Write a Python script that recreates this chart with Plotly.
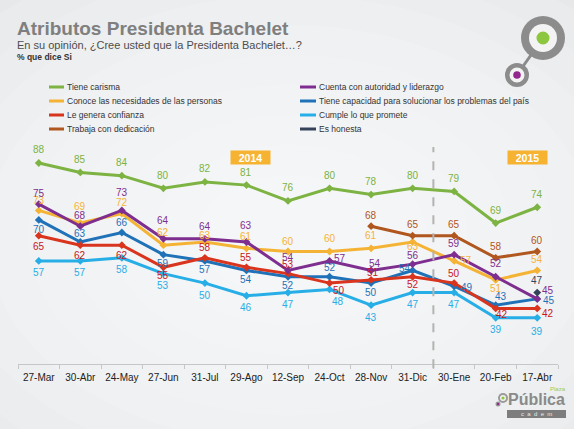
import plotly.graph_objects as go

# ---------------- data ----------------
fechas = ["27-Mar", "30-Abr", "24-May", "27-Jun", "31-Jul", "29-Ago", "12-Sep",
          "24-Oct", "28-Nov", "31-Dic", "30-Ene", "20-Feb", "17-Abr"]
tiene_carisma = [88, 85, 84, 80, 82, 81, 76, 80, 78, 80, 79, 69, 74]
cuenta_autoridad = [75, 68, 73, 64, 64, 63, 54, 57, 54, 56, 59, 52, 45]
conoce_necesidades = [73, 69, 72, 62, 63, 61, 60, 60, 61, 63, 57, 51, 54]
tiene_capacidad = [70, 63, 66, 59, 57, 54, 52, 52, 50, 54, 49, 43, 45]
genera_confianza = [65, 62, 62, 55, 58, 55, 53, 50, 51, 52, 50, 42, 42]
cumple_promete = [57, 57, 58, 53, 50, 46, 47, 48, 43, 47, 47, 39, 39]
trabaja_dedicacion = [None] * 8 + [68, 65, 65, 58, 60]
es_honesta = [None] * 12 + [47]

nombres = {
    "carisma": "Tiene carisma",
    "autoridad": "Cuenta con autoridad y liderazgo",
    "conoce": "Conoce las necesidades de las personas",
    "capacidad": "Tiene capacidad para solucionar los problemas del país",
    "confianza": "Le genera confianza",
    "cumple": "Cumple lo que promete",
    "trabaja": "Trabaja con dedicación",
    "honesta": "Es honesta",
}

# ---------------- styles ----------------
colores = {
    "carisma": "#7cb342", "autoridad": "#7d2e8f", "conoce": "#f5b335",
    "capacidad": "#1f72b8", "confianza": "#d9341d", "cumple": "#27aee6",
    "trabaja": "#b0561f", "honesta": "#34435a",
}
colores_texto = dict(colores)
colores_texto["confianza"] = "#c8161d"

# label offsets (dx, dy) in screen pixels from each point (dy > 0 = below)
desplaz = {
    "carisma": [(0, -13)] * 13,
    "autoridad": [(0, -11), (0, -11), (0, -18), (0, -18), (0, -12), (0, -17), (0, -13),
                  (10, -2), (4, -7), (0, -9), (0, -11), (0, -13), (11, -8)],
    "conoce": [(0, -10), (0, -17), (0, -11), (0, -13), (0, -7), (0, -12), (0, -10),
               (0, -13), (0, -13), (0, 4), (12, 0), (0, 9), (0, -11)],
    "capacidad": [(0, 10), (0, -9), (0, -10), (0, 9), (0, 9), (0, 9), (0, 9),
                  (0, -9), (0, 9), (-8, -2), (13, 1), (5, -9), (12, 2)],
    "confianza": [(0, 11), (0, 10), (0, 10), (0, 8), (0, -10), (0, -10), (0, -9),
                  (9, 7), (2, -7), (0, 8), (0, -10), (6, 6), (11, 5)],
    "cumple": [(0, 12)] * 7 + [(8, 12)] + [(0, 12)] * 4 + [(0, 14)],
    "trabaja": [(0, -11)] * 13,
    "honesta": [(0, -12)] * 13,
}
valores = {
    "carisma": tiene_carisma, "autoridad": cuenta_autoridad,
    "conoce": conoce_necesidades, "capacidad": tiene_capacidad,
    "confianza": genera_confianza, "cumple": cumple_promete,
    "trabaja": trabaja_dedicacion, "honesta": es_honesta,
}
orden_dibujo = ["cumple", "capacidad", "confianza", "conoce", "autoridad",
                "carisma", "trabaja", "honesta"]

FONT = "Liberation Sans, Arial, Helvetica, sans-serif"
W, H = 574, 429
ML, MR, MT, MB = 18, 16, 147, 65
BG = "#e6e8ea"


def xp(px):
    return (px - ML) / (W - ML - MR)


def yp(py):
    return (H - MB - py) / (H - MT - MB)


fig = go.Figure()
annotations = []
for k in orden_dibujo:
    vals = valores[k]
    fig.add_trace(go.Scatter(
        x=fechas, y=vals, name=nombres[k], mode="lines+markers",
        line=dict(color=colores[k], width=3),
        marker=dict(symbol="diamond", size=6, color=colores[k]),
        showlegend=False, cliponaxis=False, hoverinfo="x+y+name",
    ))
    for i, v in enumerate(vals):
        if v is None:
            continue
        dx, dy = desplaz[k][i]
        annotations.append(dict(
            xref="x", yref="y", x=fechas[i], y=v, text=str(v), showarrow=False,
            xanchor="center", yanchor="middle", xshift=dx, yshift=-dy,
            font=dict(color=colores_texto[k], size=10, family=FONT)))

shapes = []

# background radial-ish gradient
for i in range(9):
    rx = 430 - i * 42
    ry = 300 - i * 30
    cx, cy = 290, 235
    shapes.append(dict(type="circle", xref="paper", yref="paper", layer="below",
                       x0=xp(cx - rx), x1=xp(cx + rx), y0=yp(cy + ry), y1=yp(cy - ry),
                       fillcolor="rgba(255,255,255,0.13)", line=dict(width=0)))

# dashed separator between years
shapes.append(dict(type="line", xref="x", yref="paper", x0=9.5, x1=9.5, y0=-0.02, y1=1.0,
                   line=dict(color="#b3b3b3", width=2, dash="dash")))

# legend (manual, two columns)
col1 = ["carisma", "conoce", "confianza", "trabaja"]
col2 = ["autoridad", "capacidad", "cumple", "honesta"]
filas = [87, 101, 115, 129]
for col, (lx0, lx1, tx) in ((col1, (49, 64, 65)), (col2, (300, 316, 317))):
    for k, fy in zip(col, filas):
        shapes.append(dict(type="line", xref="paper", yref="paper",
                           x0=xp(lx0), x1=xp(lx1), y0=yp(fy), y1=yp(fy),
                           line=dict(color=colores[k], width=3)))
        annotations.append(dict(xref="paper", yref="paper", x=xp(tx), y=yp(fy),
                                xanchor="left", yanchor="middle", showarrow=False,
                                text=nombres[k],
                                font=dict(size=8.5, color="#333333", family=FONT)))

# titles
annotations += [
    dict(xref="paper", yref="paper", x=xp(15), y=yp(29), xanchor="left", yanchor="middle",
         showarrow=False, text="<b>Atributos Presidenta Bachelet</b>",
         font=dict(size=19, color="#7f7f7f", family=FONT)),
    dict(xref="paper", yref="paper", x=xp(15), y=yp(45), xanchor="left", yanchor="middle",
         showarrow=False, text="En su opinión, ¿Cree usted que la Presidenta Bachelet…?",
         font=dict(size=11, color="#4d4d4d", family=FONT)),
    dict(xref="paper", yref="paper", x=xp(15), y=yp(57.5), xanchor="left", yanchor="middle",
         showarrow=False, text="<b>% que dice Si</b>",
         font=dict(size=8.5, color="#333333", family=FONT)),
]

# year boxes
for txt, cx in (("2014", 250.5), ("2015", 527)):
    annotations.append(dict(xref="paper", yref="paper", x=xp(cx), y=yp(157.5),
                            xanchor="center", yanchor="middle", showarrow=False,
                            text="<b>%s</b>" % txt, bgcolor="#f6b332",
                            width=36, height=10, borderpad=1.5,
                            font=dict(size=10.5, color="white", family=FONT)))


# logo top-right
def circ(cx, cy, r, color):
    return dict(type="circle", xref="paper", yref="paper",
                x0=xp(cx - r), x1=xp(cx + r), y0=yp(cy + r), y1=yp(cy - r),
                fillcolor=color, line=dict(width=0))


shapes.append(dict(type="line", xref="paper", yref="paper", x0=xp(519), y0=yp(72),
                   x1=xp(538), y1=yp(45), line=dict(color="#8a8a8a", width=3)))
shapes += [circ(543, 38, 22, "#8c8c8c"), circ(543, 38, 14, "#f3f3f3"),
           circ(543, 38, 6.5, "#8dc63f"),
           circ(517, 75, 12, "#8c8c8c"), circ(517, 75, 7.5, "#f3f3f3"),
           circ(517, 75, 3.8, "#93278f")]

# logo bottom-right
shapes += [circ(503, 398, 5, "#9a9a9a"), circ(503, 398, 3, "#f3f3f3"),
           circ(503, 398, 1.6, "#8dc63f"), circ(498, 404, 2.5, "#9a9a9a"),
           circ(498, 404, 1.2, "#93278f")]
shapes.append(dict(type="rect", xref="paper", yref="paper", x0=xp(507), x1=xp(566),
                   y0=yp(418), y1=yp(410), fillcolor="#7d7d7d", line=dict(width=0)))
annotations += [
    dict(xref="paper", yref="paper", x=xp(536), y=yp(399), xanchor="center", yanchor="middle",
         showarrow=False, text="<b>Pública</b>",
         font=dict(size=16, color="#8a8a8a", family=FONT)),
    dict(xref="paper", yref="paper", x=xp(558), y=yp(389), xanchor="center", yanchor="middle",
         showarrow=False, text="Plaza", font=dict(size=6, color="#9ccc55", family=FONT)),
    dict(xref="paper", yref="paper", x=xp(536.5), y=yp(414), xanchor="center", yanchor="middle",
         showarrow=False, text="c  a  d  e  m", font=dict(size=6, color="#e8e8e8", family=FONT)),
]

fig.update_layout(
    width=W, height=H, autosize=False,
    margin=dict(l=ML, r=MR, t=MT, b=MB, pad=0),
    paper_bgcolor=BG, plot_bgcolor="rgba(0,0,0,0)",
    shapes=shapes, annotations=annotations, showlegend=False,
    font=dict(family=FONT),
    xaxis=dict(type="category", range=[-0.5, 12.5], showgrid=False, zeroline=False,
               showline=True, linecolor="#c6c6c6", linewidth=1,
               ticks="outside", tickson="boundaries", ticklen=4, tickcolor="#c6c6c6",
               tickangle=0,
               tickfont=dict(size=10, color="#222222", family=FONT),
               ticklabelstandoff=4, fixedrange=True),
    yaxis=dict(visible=False, range=[24.4, 93.06], fixedrange=True),
)

fig.write_html(
    "out.html",
    config={"displayModeBar": False},
    post_script="document.body.style.margin='0px';document.body.style.overflow='hidden';"
                "document.body.style.background='%s';" % BG,
)
